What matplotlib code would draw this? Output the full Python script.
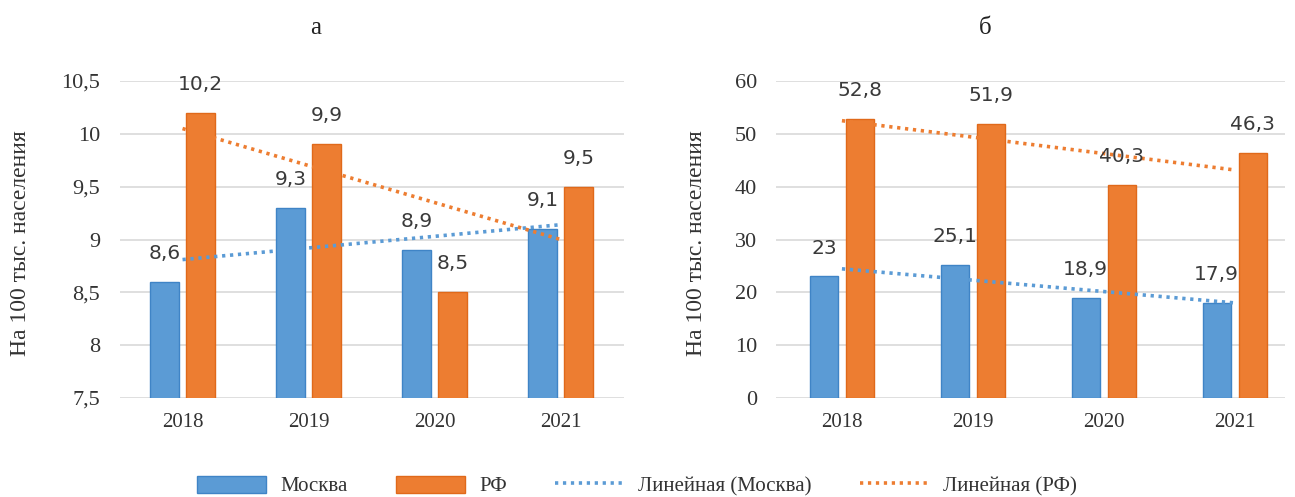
import numpy as np
import matplotlib
matplotlib.use("Agg")
from matplotlib import pyplot as plt
from matplotlib.patches import Patch
from matplotlib.lines import Line2D

years = ["2018", "2019", "2020", "2021"]

# panel "а"
moscow_a = [8.6, 9.3, 8.9, 9.1]
rf_a = [10.2, 9.9, 8.5, 9.5]
yticks_a = [7.5, 8, 8.5, 9, 9.5, 10, 10.5]

# panel "б"
moscow_b = [23, 25.1, 18.9, 17.9]
rf_b = [52.8, 51.9, 40.3, 46.3]
yticks_b = [0, 10, 20, 30, 40, 50, 60]

BLUE = "#5B9BD5"
BLUE_EDGE = "#3F84C6"
ORANGE = "#ED7D31"
ORANGE_EDGE = "#E0691A"
GRID = "#D9D9D9"
SERIF = "Liberation Serif"
SANS = "DejaVu Sans"
DOTS = (0, (0.9, 1.3))


def fmt(v):
    # decimal comma, drop trailing ",0"
    s = "{:g}".format(v)
    return s.replace(".", ",")


def draw_panel(ax, moscow, rf, yticks, width, gap, xmax):
    x = np.arange(len(years))
    off = (width + gap) / 2
    ax.bar(x - off, moscow, width, color=BLUE, edgecolor=BLUE_EDGE, linewidth=1, zorder=2)
    ax.bar(x + off, rf, width, color=ORANGE, edgecolor=ORANGE_EDGE, linewidth=1, zorder=2)

    # linear trend lines across the category centres
    for vals, col in ((moscow, BLUE), (rf, ORANGE)):
        k, b = np.polyfit(x, vals, 1)
        ax.plot(x[[0, -1]], k * x[[0, -1]] + b, color=col, lw=2.6,
                linestyle=DOTS, dash_capstyle="butt", zorder=3)

    for xs, vals in ((x - off, moscow), (x + off, rf)):
        for xi, v in zip(xs, vals):
            ax.annotate(fmt(v), (xi, v), xytext=(0, 20.5), textcoords="offset points",
                        ha="center", va="center", fontsize=14.5, color="#3A3A3A",
                        family=SANS, zorder=4)

    ax.set_ylim(yticks[0], yticks[-1])
    ax.set_yticks(yticks)
    ax.set_yticklabels([fmt(t) for t in yticks], family=SERIF, fontsize=16, color="#333333")
    ax.set_xlim(-0.5, xmax)
    ax.set_xticks(x)
    ax.set_xticklabels(years, family=SERIF, fontsize=15, color="#333333")
    ax.tick_params(axis="y", length=0, pad=14)
    ax.tick_params(axis="x", length=0, pad=11)
    ax.grid(axis="y", color=GRID, lw=1.2, zorder=0)
    for s in ax.spines.values():
        s.set_visible(False)


fig = plt.figure(figsize=(12.95, 4.97), dpi=100)
ax_a = fig.add_axes([0.0923, 0.1992, 0.3892, 0.6378])
ax_b = fig.add_axes([0.5996, 0.1992, 0.3927, 0.6378])

draw_panel(ax_a, moscow_a, rf_a, yticks_a, 0.23, 0.055, 3.5)
draw_panel(ax_b, moscow_b, rf_b, yticks_b, 0.215, 0.06, 3.385)

fig.text(316 / 1295, 1 - 28 / 497, "а", ha="center", va="center", family=SERIF, fontsize=18, color="#222222")
fig.text(985 / 1295, 1 - 28 / 497, "б", ha="center", va="center", family=SERIF, fontsize=18, color="#222222")
for xp in (21, 697):
    fig.text(xp / 1295, 1 - 243 / 497, "На 100 тыс. населения", rotation=90, ha="center", va="center",
             family=SERIF, fontsize=17, color="#333333")

handles = [
    Patch(facecolor=BLUE, edgecolor=BLUE_EDGE),
    Patch(facecolor=ORANGE, edgecolor=ORANGE_EDGE),
    Line2D([], [], color=BLUE, lw=2.6, linestyle=DOTS),
    Line2D([], [], color=ORANGE, lw=2.6, linestyle=DOTS),
]
labels = ["Москва", "РФ", "Линейная (Москва)", "Линейная (РФ)"]
fig.legend(handles, labels, loc="center", bbox_to_anchor=(0.492, 1 - 486 / 497), ncol=4, frameon=False,
           prop={"family": SERIF, "size": 15}, handlelength=3.3, handleheight=0.9,
           handletextpad=0.7, columnspacing=2.3, labelcolor="#333333")

fig.savefig("out.png", dpi=100)
